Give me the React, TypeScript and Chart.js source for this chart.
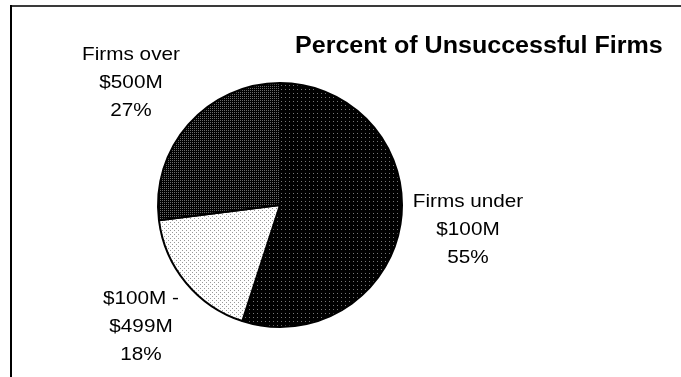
import React, { useEffect, useRef } from "react";
import { Chart, registerables } from "chart.js";

Chart.register(...registerables);

const categories = ["Firms under $100M", "$100M - $499M", "Firms over $500M"];
const values = [55, 18, 27];
const labelLines = [
  ["Firms under", "$100M", "55%"],
  ["$100M -", "$499M", "18%"],
  ["Firms over", "$500M", "27%"],
];
const titleText = "Percent of Unsuccessful Firms";

function makePattern(bg: string, dot: string, dots: number[][], size: number) {
  const c = document.createElement("canvas");
  c.width = size;
  c.height = size;
  const x = c.getContext("2d")!;
  x.fillStyle = bg;
  x.fillRect(0, 0, size, size);
  x.fillStyle = dot;
  dots.forEach(([a, b]) => x.fillRect(a, b, 1, 1));
  return x.createPattern(c, "repeat")!;
}

export default function App() {
  const ref = useRef<HTMLCanvasElement>(null);
  useEffect(() => {
    document.body.style.margin = "0";
    const canvas = ref.current!;
    const pBlack = makePattern("#000", "#777", [[1, 1]], 4);
    const pLight = makePattern("#fff", "#999", [[0, 0], [2, 2]], 4);
    const pDark = makePattern("#000", "#6a6a6a", [[0, 0], [2, 0], [0, 2], [2, 2]], 4);

    const labelPos = [
      { x: 468, y: 202 },
      { x: 141, y: 299 },
      { x: 131, y: 55 },
    ];

    const drawStretched = (ctx: CanvasRenderingContext2D, text: string, x: number, y: number, sx: number) => {
      ctx.save();
      ctx.translate(x, y);
      ctx.scale(sx, 1);
      ctx.fillText(text, 0, 0);
      ctx.restore();
    };

    const plugin = {
      id: "deco",
      beforeDraw(chart: any) {
        const ctx = chart.ctx as CanvasRenderingContext2D;
        ctx.save();
        ctx.fillStyle = "#fff";
        ctx.fillRect(0, 0, chart.width, chart.height);
        ctx.fillStyle = "#3a3a3a";
        ctx.fillRect(10, 5, chart.width - 10, 2);
        ctx.fillStyle = "#000";
        ctx.fillRect(10, 5, 2, chart.height - 5);
        ctx.restore();
      },
      afterDraw(chart: any) {
        const ctx = chart.ctx as CanvasRenderingContext2D;
        ctx.save();
        ctx.fillStyle = "#000";
        ctx.textBaseline = "middle";
        ctx.textAlign = "left";
        ctx.font = "bold 23px 'Liberation Sans', Arial, sans-serif";
        drawStretched(ctx, titleText, 295, 47, 1.09);
        ctx.textAlign = "center";
        ctx.font = "18.5px 'Liberation Sans', Arial, sans-serif";
        labelLines.forEach((lines, i) => {
          const p = labelPos[i];
          lines.forEach((t, j) => drawStretched(ctx, t, p.x, p.y + j * 28, 1.12));
        });
        ctx.restore();
      },
    };

    const chart = new Chart(canvas, {
      type: "pie",
      data: {
        labels: categories,
        datasets: [
          {
            data: values,
            backgroundColor: [pBlack, pLight, pDark] as any,
            borderColor: "#000",
            borderWidth: 2,
          },
        ],
      },
      options: {
        animation: false,
        responsive: false,
        events: [],
        layout: { padding: { left: 157, top: 82, right: 278, bottom: 49 } },
        plugins: {
          legend: { display: false },
          title: { display: false },
          tooltip: { enabled: false },
        },
      },
      plugins: [plugin],
    });
    return () => chart.destroy();
  }, []);
  return <canvas ref={ref} width={681} height={377} style={{ display: "block" }} />;
}
